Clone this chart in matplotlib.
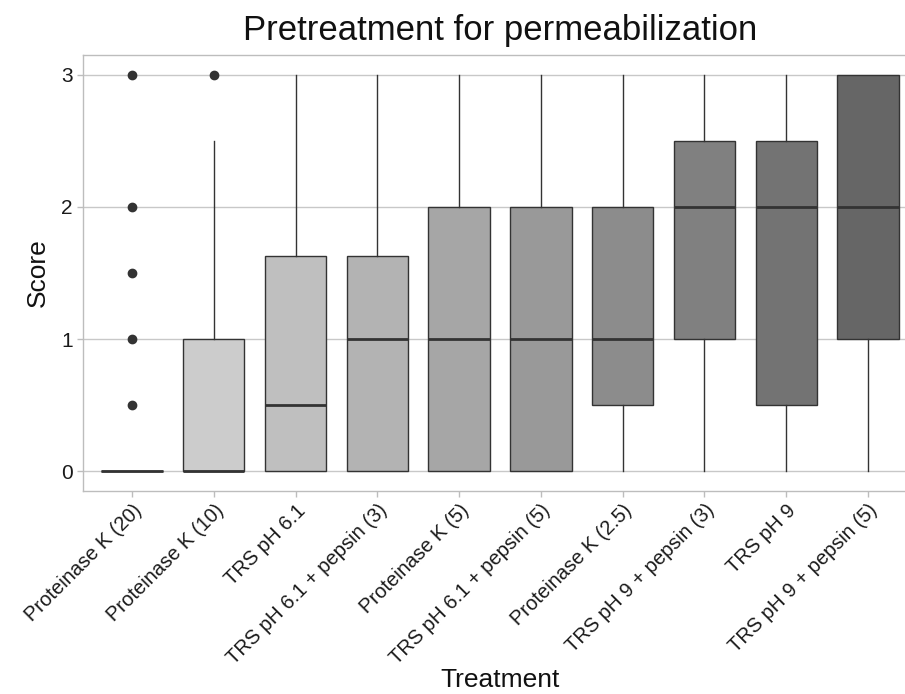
import numpy as np
import matplotlib
matplotlib.use("Agg")
import matplotlib.pyplot as plt

plt.rcParams['font.family'] = ['Liberation Sans', 'DejaVu Sans']

treatments = ["Proteinase K (20)", "Proteinase K (10)", "TRS pH 6.1",
              "TRS pH 6.1 + pepsin (3)", "Proteinase K (5)", "TRS pH 6.1 + pepsin (5)",
              "Proteinase K (2.5)", "TRS pH 9 + pepsin (3)", "TRS pH 9",
              "TRS pH 9 + pepsin (5)"]
whisker_low = [0, 0, 0, 0, 0, 0, 0, 0, 0, 0]
q1 = [0, 0, 0, 0, 0, 0, 0.5, 1, 0.5, 1]
median = [0, 0, 0.5, 1, 1, 1, 1, 2, 2, 2]
q3 = [0, 1, 1.625, 1.625, 2, 2, 2, 2.5, 2.5, 3]
whisker_high = [0, 2.5, 3, 3, 3, 3, 3, 3, 3, 3]
outliers = [[0.5, 1, 1.5, 2, 3], [3], [], [], [], [], [], [], [], []]

stats = []
for i in range(len(treatments)):
    stats.append(dict(label=treatments[i], whislo=whisker_low[i], q1=q1[i], med=median[i],
                      q3=q3[i], whishi=whisker_high[i], fliers=outliers[i]))

W, H = 905, 694
fig = plt.figure(figsize=(W / 100, H / 100), dpi=100)
ax = fig.add_axes([83 / W, 1 - 491 / H, 834 / W, 436 / H])

edge = '#333333'
bp = ax.bxp(stats, positions=np.arange(1, 11), widths=0.75, patch_artist=True,
            showcaps=False,
            boxprops=dict(edgecolor=edge, linewidth=1.0),
            medianprops=dict(color=edge, linewidth=2.0),
            whiskerprops=dict(color=edge, linewidth=1.0),
            flierprops=dict(marker='o', markerfacecolor=edge, markeredgecolor=edge,
                            markersize=6, linestyle='none'))
greys = np.linspace(0.85, 0.4, len(treatments))
for patch, g in zip(bp['boxes'], greys):
    patch.set_facecolor((g, g, g))
for artist in bp['boxes'] + bp['medians'] + bp['whiskers'] + bp['fliers']:
    artist.set_zorder(3)

ax.set_xlim(0.4, 10.6)
ax.set_ylim(-0.15, 3.15)
ax.set_yticks([0, 1, 2, 3])
ax.set_yticklabels(['0', '1', '2', '3'])
ax.set_xticks(np.arange(1, 11))
ax.set_xticklabels(treatments, rotation=45, ha='right', rotation_mode='anchor')
ax.grid(axis='y', color='#C8C8C8', linewidth=1.0, zorder=0)
ax.set_axisbelow(True)
for s in ax.spines.values():
    s.set_color('#BDBDBD')
    s.set_linewidth(1.0)
ax.tick_params(axis='both', colors='#BDBDBD', labelcolor='#1A1A1A', labelsize=15,
               length=4, width=1.0)
ax.tick_params(axis='x', labelsize=14.5, pad=3)

ax.set_title("Pretreatment for permeabilization", fontsize=25, color='#111111', pad=11)
fig.text(500 / W, 1 - 687 / H, "Treatment", fontsize=19, color='#111111',
         ha='center', va='baseline')
ax.set_ylabel("Score", fontsize=19, color='#111111', labelpad=8)

fig.savefig("out.png", dpi=100)
